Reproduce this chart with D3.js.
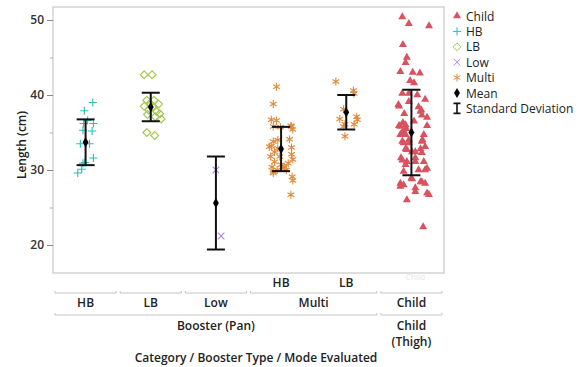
<!DOCTYPE html>
<html>
<head>
<meta charset="utf-8">
<script src="https://cdn.jsdelivr.net/npm/d3@7"></script>
<style>
  html, body { margin: 0; padding: 0; background: #fff; }
  svg { display: block; font-family: "Open Sans", "Noto Sans", sans-serif; }
</style>
</head>
<body>
<svg id="chart" width="582" height="367"></svg>
<script>
// ---- data ----
const columns = ["HB", "LB", "Low", "MultiHB", "MultiLB", "Child"];
const seriesOf = ["HB", "LB", "Low", "Multi", "Multi", "Child"];
const hbValues   = [39.0, 37.9, 36.6, 36.2, 36.2, 35.3, 35.2, 33.5, 33.5, 31.6, 31.0, 30.9, 30.1, 29.6];
const hbJitter   = [0.11, -0.02, 0.03, -0.03, 0.12, -0.04, 0.10, -0.08, 0.06, 0.12, -0.01, -0.04, -0.06, -0.12];
const lbValues   = [42.7, 42.7, 39.3, 39.3, 38.9, 38.8, 38.5, 38.4, 38.0, 37.8, 37.5, 37.4, 37.1, 36.8, 35.0, 34.6];
const lbJitter   = [-0.10, 0.02, -0.06, 0.05, -0.01, 0.12, -0.10, 0.03, -0.03, 0.09, 0.14, -0.05, 0.07, 0.16, -0.06, 0.06];
const lowValues  = [30.0, 21.2];
const lowJitter  = [0.0, 0.08];
const mhbValues  = [41.1, 38.8, 36.7, 36.6, 35.9, 35.8, 35.8, 35.7, 35.4, 34.1, 34.0, 33.8, 33.2, 33.1, 33.0, 32.9, 32.4, 32.1, 31.8, 31.8, 31.4, 31.1, 30.9, 30.7, 30.4, 30.4, 30.3, 30.0, 30.0, 29.8, 29.6, 29.1, 28.6, 26.7];
const mhbJitter  = [-0.07, -0.12, -0.15, -0.07, 0.15, 0.16, -0.12, -0.01, 0.18, 0.13, -0.05, -0.12, -0.15, -0.18, 0.16, -0.05, -0.10, 0.16, -0.16, -0.02, 0.18, -0.10, 0.11, 0.00, -0.14, 0.05, 0.03, -0.06, 0.08, -0.12, -0.12, 0.17, 0.18, 0.15];
const mlbValues  = [41.8, 40.6, 40.2, 38.1, 37.1, 36.8, 36.7, 36.1, 36.1, 35.8, 34.5];
const mlbJitter  = [-0.16, 0.11, 0.12, -0.04, 0.16, -0.10, 0.17, -0.02, 0.12, -0.04, -0.02];
const childValues = [50.4, 49.5, 49.2, 46.7, 45.0, 44.3, 43.1, 43.0, 42.9, 41.9, 41.6, 40.2, 40.2, 40.0, 39.4, 39.1, 38.7, 38.5, 38.4, 38.0, 37.8, 37.5, 37.3, 37.0, 36.5, 36.3, 36.0, 35.9, 35.9, 35.8, 35.5, 35.2, 34.9, 34.7, 34.7, 34.7, 34.0, 34.0, 33.8, 33.8, 33.6, 33.6, 33.1, 32.8, 32.8, 32.7, 32.4, 32.4, 32.3, 31.6, 31.6, 31.3, 31.1, 31.1, 31.1, 30.7, 30.2, 30.0, 30.0, 29.8, 28.9, 28.8, 28.4, 28.4, 28.2, 28.2, 28.0, 27.8, 27.6, 27.1, 26.9, 26.7, 26.0, 22.4];
const childJitter = [-0.14, -0.04, 0.27, -0.13, -0.07, -0.09, -0.17, 0.02, 0.13, -0.02, 0.04, -0.14, -0.04, 0.09, 0.21, -0.04, -0.20, -0.19, 0.11, 0.15, 0.14, -0.11, 0.16, 0.24, 0.04, -0.13, -0.09, -0.19, 0.24, -0.17, -0.08, -0.12, -0.15, -0.17, -0.09, 0.19, -0.04, 0.17, 0.16, -0.14, -0.12, -0.04, 0.21, -0.09, 0.14, -0.07, 0.06, 0.01, 0.16, -0.16, 0.06, -0.14, 0.06, 0.19, -0.07, -0.09, 0.24, 0.21, 0.11, -0.12, 0.00, 0.01, 0.16, 0.14, -0.17, 0.21, -0.12, -0.17, 0.06, 0.06, 0.24, 0.27, -0.07, 0.18];
const groupMeans = [33.7, 38.4, 25.6, 32.8, 37.7, 35.0];
const groupSD    = [3.05, 1.9, 6.2, 2.95, 2.3, 5.7];
const yTicks = [20, 30, 40, 50];
const yMinorTicks = [25, 35, 45];
const row1Labels = ["", "", "", "HB", "LB", ""];
const row2Groups = [{label: "HB", from: 0, to: 0}, {label: "LB", from: 1, to: 1}, {label: "Low", from: 2, to: 2}, {label: "Multi", from: 3, to: 4}, {label: "Child", from: 5, to: 5}];
const row3Groups = [{label: ["Booster (Pan)"], from: 0, to: 4}, {label: ["Child", "(Thigh)"], from: 5, to: 5}];
const legendItems = ["Child", "HB", "LB", "Low", "Multi", "Mean", "Standard Deviation"];
const colors = {Child: "#d9525f", HB: "#2dbdbd", LB: "#a2c84b", Low: "#b184e0", Multi: "#e0893a", Mean: "#000"};

const valuesByCol = [hbValues, lbValues, lowValues, mhbValues, mlbValues, childValues];
const jitterByCol = [hbJitter, lbJitter, lowJitter, mhbJitter, mlbJitter, childJitter];

// ---- layout ----
const svg = d3.select("#chart");
const L = 53, R = 444, T = 7, B = 273;
const x = d3.scaleBand().domain(columns).range([L, R]).padding(0);
const y = d3.scaleLinear().domain([16.27, 51.73]).range([B, T]);
const cx = i => x(columns[i]) + x.bandwidth() / 2;

// frame
svg.append("rect").attr("x", L).attr("y", T).attr("width", R - L).attr("height", B - T)
  .attr("fill", "none").attr("stroke", "#c8c8c8").attr("stroke-width", 1.2);

// y axis
const yAxis = d3.axisLeft(y).tickValues(yTicks).tickSize(6).tickPadding(3).tickFormat(d3.format("d"));
const gy = svg.append("g").attr("transform", `translate(${L},0)`).call(yAxis);
gy.select(".domain").remove();
gy.selectAll(".tick line").attr("stroke", "#888");
gy.selectAll(".tick text").attr("font-size", 12).attr("font-weight", 600).attr("fill", "#333")
  .attr("font-family", "'Open Sans', sans-serif");
const gym = svg.append("g").attr("transform", `translate(${L},0)`)
  .call(d3.axisLeft(y).tickValues(yMinorTicks).tickSize(3).tickFormat(""));
gym.select(".domain").remove();
gym.selectAll(".tick line").attr("stroke", "#aaa");

svg.append("text").attr("transform", `translate(26,${(T + B) / 2 + 5}) rotate(-90)`)
  .attr("text-anchor", "middle").attr("font-size", 12).attr("font-weight", 600).attr("fill", "#222")
  .text("Length (cm)");

// symbols
const symFor = {
  HB: d3.symbol(d3.symbolPlus, 24),
  LB: d3.symbol(d3.symbolDiamond2, 40),
  Low: d3.symbol(d3.symbolTimes, 30),
  Multi: d3.symbol(d3.symbolAsterisk, 42),
  Child: d3.symbol(d3.symbolTriangle, 28),
};
function drawMarker(g, s, px, py) {
  const p = g.append("path").attr("d", symFor[s]()).attr("transform", `translate(${px},${py})`);
  if (s === "Child") p.attr("fill", colors[s]).attr("stroke", "none");
  else p.attr("fill", "none").attr("stroke", colors[s]).attr("stroke-width", 1.1);
  return p;
}

// points
const gp = svg.append("g");
valuesByCol.forEach((vals, i) => {
  vals.forEach((v, k) => {
    drawMarker(gp, seriesOf[i], cx(i) + jitterByCol[i][k] * x.bandwidth(), y(v));
  });
});

// error bars + means
const ge = svg.append("g");
groupMeans.forEach((m, i) => {
  const xc = cx(i), hi = y(m + groupSD[i]), lo = y(m - groupSD[i]);
  ge.append("line").attr("x1", xc).attr("x2", xc).attr("y1", hi).attr("y2", lo).attr("stroke", "#111").attr("stroke-width", 2);
  [hi, lo].forEach(yy => ge.append("line").attr("x1", xc - 9).attr("x2", xc + 9).attr("y1", yy).attr("y2", yy)
    .attr("stroke", "#111").attr("stroke-width", 2));
  ge.append("path").attr("d", d3.symbol(d3.symbolDiamond, 30)()).attr("transform", `translate(${xc},${y(m)})`).attr("fill", "#000");
});

// bottom nested axis
const ga = svg.append("g").attr("font-size", 12).attr("font-weight", 600).attr("fill", "#222").attr("text-anchor", "middle");
row1Labels.forEach((t, i) => { if (t) ga.append("text").attr("x", cx(i)).attr("y", 287).text(t); });
ga.append("text").attr("x", cx(5) + 4).attr("y", 280).attr("font-size", 8).attr("fill", "#ececec").text("Child");
function segment(from, to, yy) {
  const x0 = x(columns[from]) + 2, x1 = x(columns[to]) + x.bandwidth() - 2;
  svg.append("path").attr("d", `M${x0},${yy - 2}L${x0},${yy}L${x1},${yy}L${x1},${yy - 2}`)
    .attr("fill", "none").attr("stroke", "#c4c4c4").attr("stroke-width", 1);
  return (x0 + x1) / 2;
}
row2Groups.forEach(g => {
  const mid = segment(g.from, g.to, 293);
  ga.append("text").attr("x", mid).attr("y", 307).text(g.label);
});
row3Groups.forEach(g => {
  const mid = segment(g.from, g.to, 315);
  g.label.forEach((t, j) => ga.append("text").attr("x", mid).attr("y", 330 + j * 16).text(t));
});
ga.append("text").attr("x", 256).attr("y", 362).text("Category / Booster Type / Mode Evaluated");

// legend
const gl = svg.append("g");
legendItems.forEach((name, i) => {
  const yy = 16 + i * 15.4;
  const lx = 457;
  if (name === "Mean") {
    gl.append("path").attr("d", d3.symbol(d3.symbolDiamond, 30)()).attr("transform", `translate(${lx},${yy})`).attr("fill", "#000");
  } else if (name === "Standard Deviation") {
    gl.append("path").attr("d", `M${lx - 3.5},${yy - 5}H${lx + 3.5}M${lx},${yy - 5}V${yy + 5}M${lx - 3.5},${yy + 5}H${lx + 3.5}`)
      .attr("stroke", "#111").attr("stroke-width", 1.6).attr("fill", "none");
  } else {
    const p = drawMarker(gl, name, lx, yy);
    if (name !== "Child") p.attr("stroke-width", 1);
  }
  gl.append("text").attr("x", 466).attr("y", yy + 4.5).attr("font-size", 12).attr("font-weight", 500).attr("fill", "#222").text(name);
});
</script>
</body>
</html>
